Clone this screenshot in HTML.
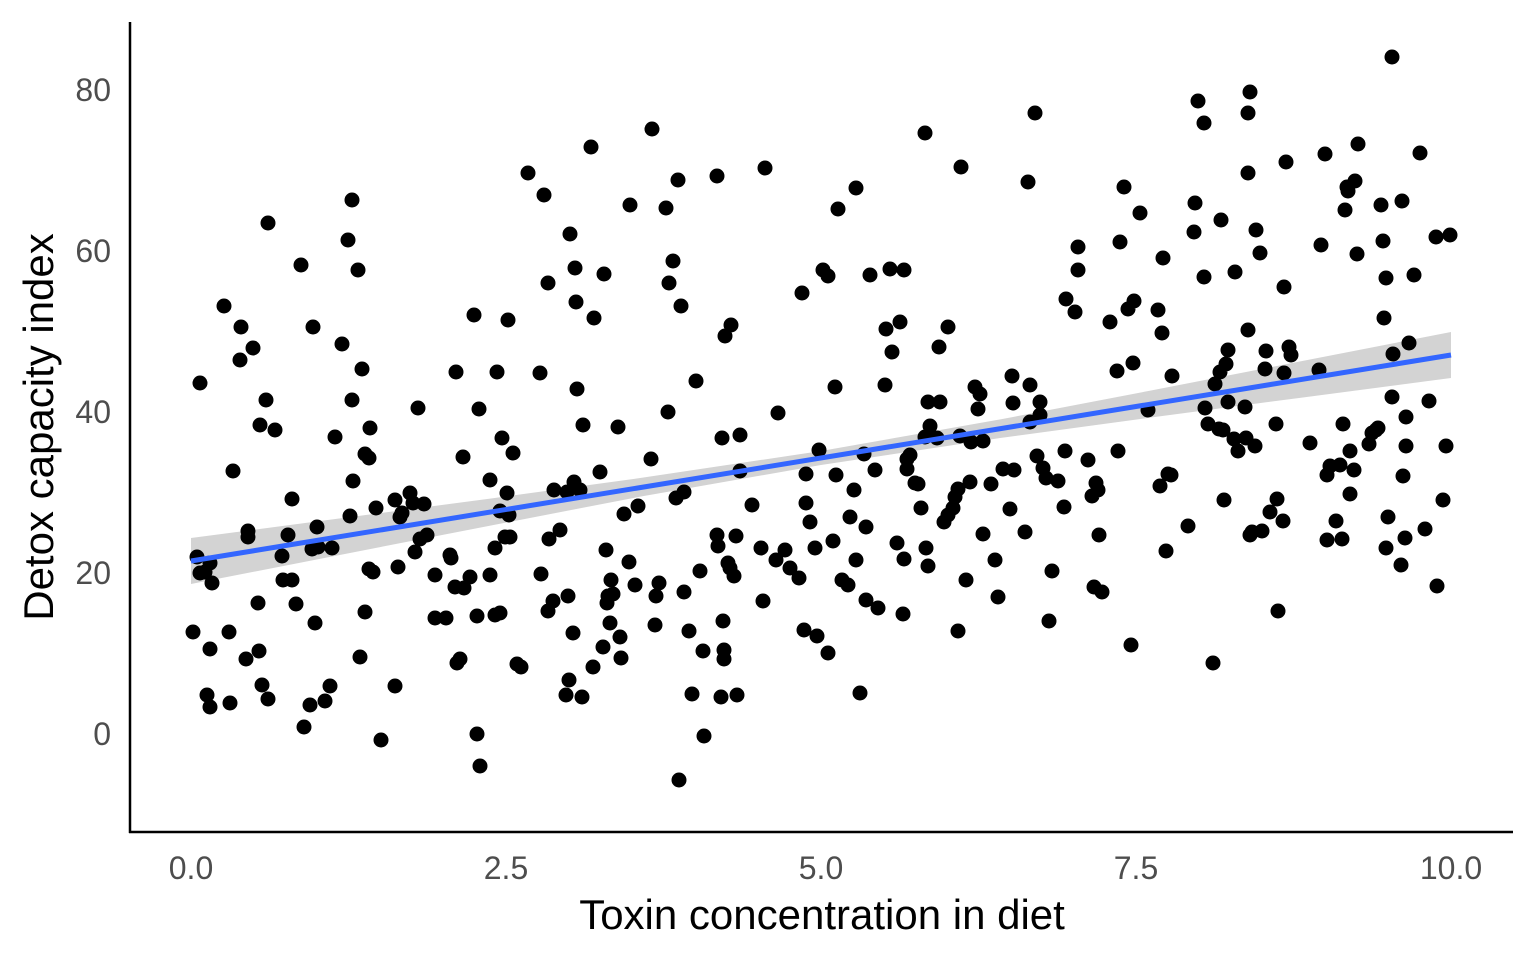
<!DOCTYPE html>
<html><head><meta charset="utf-8"><style>body{margin:0;background:#fff}svg{display:block}</style></head><body>
<svg width="1536" height="960" xmlns="http://www.w3.org/2000/svg" font-family="Liberation Sans, sans-serif">
<rect width="1536" height="960" fill="#fff"/>
<polygon points="191,538 341,518.3 491,498.5 641,477.9 821,451 1001,419.3 1151,390.5 1301,361.3 1451,332 1451,378 1301,397.7 1151,417.5 1001,437.9 821,465 641,496.5 491,525.5 341,554.7 191,584" fill="#d3d3d3"/>
<path fill="none" stroke="#000" stroke-width="15" stroke-linecap="round" d="M193 632h0M200 383h0M197 557h0M200 573h0M205 572h0M210 563h0M212 583h0M210 649h0M207 695h0M210 707h0M224 306h0M229 632h0M233 471h0M230 703h0M240 360h0M241 327h0M246 659h0M248 531h0M248 537h0M253 348h0M258 603h0M259 651h0M262 685h0M260 425h0M266 400h0M268 699h0M268 223h0M275 430h0M282 556h0M283 580h0M288 535h0M292 499h0M292 580h0M296 604h0M301 265h0M304 727h0M310 705h0M312 549h0M313 327h0M315 623h0M317 527h0M318 547h0M325 701h0M330 686h0M332 548h0M335 437h0M342 344h0M348 240h0M350 516h0M352 400h0M352 200h0M353 481h0M358 270h0M360 657h0M362 369h0M365 612h0M365 454h0M369 458h0M370 428h0M369 569h0M373 572h0M376 508h0M381 740h0M395 686h0M398 567h0M395 500h0M400 517h0M402 513h0M410 493h0M413 503h0M415 552h0M418 408h0M420 539h0M424 504h0M427 535h0M435 575h0M435 618h0M446 618h0M450 555h0M451 558h0M456 372h0M457 663h0M460 659h0M455 587h0M464 588h0M463 457h0M470 577h0M474 315h0M477 734h0M479 409h0M480 766h0M477 616h0M490 575h0M490 480h0M495 548h0M495 615h0M497 372h0M500 613h0M500 511h0M502 438h0M507 493h0M505 537h0M508 320h0M509 515h0M513 453h0M510 537h0M517 664h0M521 667h0M528 173h0M540 373h0M541 574h0M544 195h0M548 283h0M548 611h0M549 539h0M553 601h0M554 490h0M560 530h0M567 492h0M568 596h0M569 680h0M566 695h0M570 234h0M573 633h0M574 482h0M575 268h0M576 302h0M577 389h0M580 490h0M582 697h0M583 425h0M591 147h0M593 667h0M594 318h0M600 472h0M603 647h0M604 274h0M606 550h0M607 603h0M608 596h0M610 623h0M611 580h0M613 594h0M618 427h0M620 637h0M621 658h0M624 514h0M629 562h0M630 205h0M635 585h0M638 506h0M651 459h0M655 625h0M656 596h0M652 129h0M659 583h0M666 208h0M668 412h0M669 283h0M673 261h0M676 498h0M678 180h0M679 780h0M681 306h0M684 492h0M684 592h0M689 631h0M692 694h0M696 381h0M700 571h0M703 651h0M704 736h0M717 176h0M717 535h0M718 546h0M721 697h0M722 438h0M723 621h0M724 650h0M724 659h0M725 336h0M728 563h0M730 568h0M731 325h0M734 576h0M736 536h0M737 695h0M740 435h0M740 471h0M752 505h0M761 548h0M765 168h0M763 601h0M776 560h0M778 413h0M785 550h0M790 568h0M799 578h0M802 293h0M804 630h0M806 474h0M806 503h0M810 522h0M815 548h0M817 636h0M819 450h0M823 270h0M828 276h0M828 653h0M833 541h0M835 387h0M836 475h0M838 209h0M842 580h0M848 585h0M850 517h0M854 490h0M856 188h0M856 560h0M860 693h0M864 454h0M866 527h0M866 600h0M870 275h0M875 470h0M878 608h0M885 385h0M886 329h0M890 269h0M892 352h0M897 543h0M900 322h0M904 270h0M903 614h0M904 559h0M907 459h0M907 469h0M910 455h0M915 483h0M918 484h0M921 508h0M925 133h0M926 548h0M928 566h0M925 437h0M928 402h0M930 426h0M937 438h0M939 347h0M940 402h0M944 522h0M948 327h0M948 515h0M953 508h0M955 497h0M958 489h0M958 631h0M961 167h0M960 436h0M966 580h0M970 482h0M971 442h0M975 387h0M978 409h0M980 394h0M983 441h0M983 534h0M991 484h0M995 560h0M998 597h0M1003 469h0M1012 376h0M1013 403h0M1010 509h0M1014 470h0M1025 532h0M1028 182h0M1030 385h0M1030 422h0M1035 113h0M1037 456h0M1040 402h0M1043 468h0M1040 415h0M1046 478h0M1049 621h0M1052 571h0M1058 481h0M1064 507h0M1065 451h0M1066 299h0M1075 312h0M1078 247h0M1078 270h0M1088 460h0M1092 496h0M1094 587h0M1096 483h0M1098 490h0M1099 535h0M1102 592h0M1110 322h0M1117 371h0M1118 451h0M1120 242h0M1124 187h0M1128 309h0M1131 645h0M1133 363h0M1134 301h0M1140 213h0M1148 410h0M1158 310h0M1160 486h0M1163 258h0M1162 333h0M1166 551h0M1168 474h0M1171 475h0M1172 376h0M1188 526h0M1194 232h0M1195 203h0M1198 101h0M1204 123h0M1204 277h0M1205 408h0M1208 424h0M1213 663h0M1215 384h0M1219 429h0M1220 372h0M1223 430h0M1221 220h0M1224 500h0M1226 364h0M1228 350h0M1228 402h0M1234 439h0M1235 272h0M1238 451h0M1245 407h0M1246 438h0M1248 173h0M1250 92h0M1248 113h0M1248 330h0M1250 535h0M1252 532h0M1255 446h0M1256 230h0M1260 253h0M1262 531h0M1265 369h0M1266 351h0M1270 512h0M1276 424h0M1277 499h0M1278 611h0M1284 373h0M1284 287h0M1283 521h0M1286 162h0M1289 347h0M1291 355h0M1310 443h0M1319 370h0M1321 245h0M1325 154h0M1327 475h0M1327 540h0M1330 466h0M1336 521h0M1340 465h0M1342 539h0M1343 424h0M1345 210h0M1347 187h0M1348 191h0M1350 451h0M1350 494h0M1354 470h0M1355 181h0M1357 254h0M1358 144h0M1369 444h0M1372 433h0M1376 430h0M1378 428h0M1381 205h0M1383 241h0M1384 318h0M1386 548h0M1386 278h0M1388 517h0M1392 57h0M1392 397h0M1393 354h0M1401 565h0M1402 201h0M1403 476h0M1405 538h0M1406 446h0M1406 417h0M1409 343h0M1414 275h0M1420 153h0M1425 529h0M1429 401h0M1436 237h0M1437 586h0M1443 500h0M1446 446h0M1450 235h0"/>
<line x1="191" y1="561" x2="1451" y2="355" stroke="#3366ff" stroke-width="5"/>
<line x1="130" y1="22" x2="130" y2="833" stroke="#000" stroke-width="2.5"/>
<line x1="129" y1="832" x2="1513" y2="832" stroke="#000" stroke-width="2.5"/>
<g fill="#4d4d4d" font-size="32" text-anchor="end">
<text x="111" y="101">80</text><text x="111" y="262">60</text><text x="111" y="423">40</text><text x="111" y="584">20</text><text x="111" y="745">0</text></g>
<g fill="#4d4d4d" font-size="32" text-anchor="middle">
<text x="191" y="879">0.0</text><text x="506" y="879">2.5</text><text x="821" y="879">5.0</text><text x="1136" y="879">7.5</text><text x="1451" y="879">10.0</text></g>
<text x="822" y="929" font-size="42" text-anchor="middle">Toxin concentration in diet</text>
<text transform="translate(53,427) rotate(-90)" font-size="42" text-anchor="middle">Detox capacity index</text>
</svg>
</body></html>
